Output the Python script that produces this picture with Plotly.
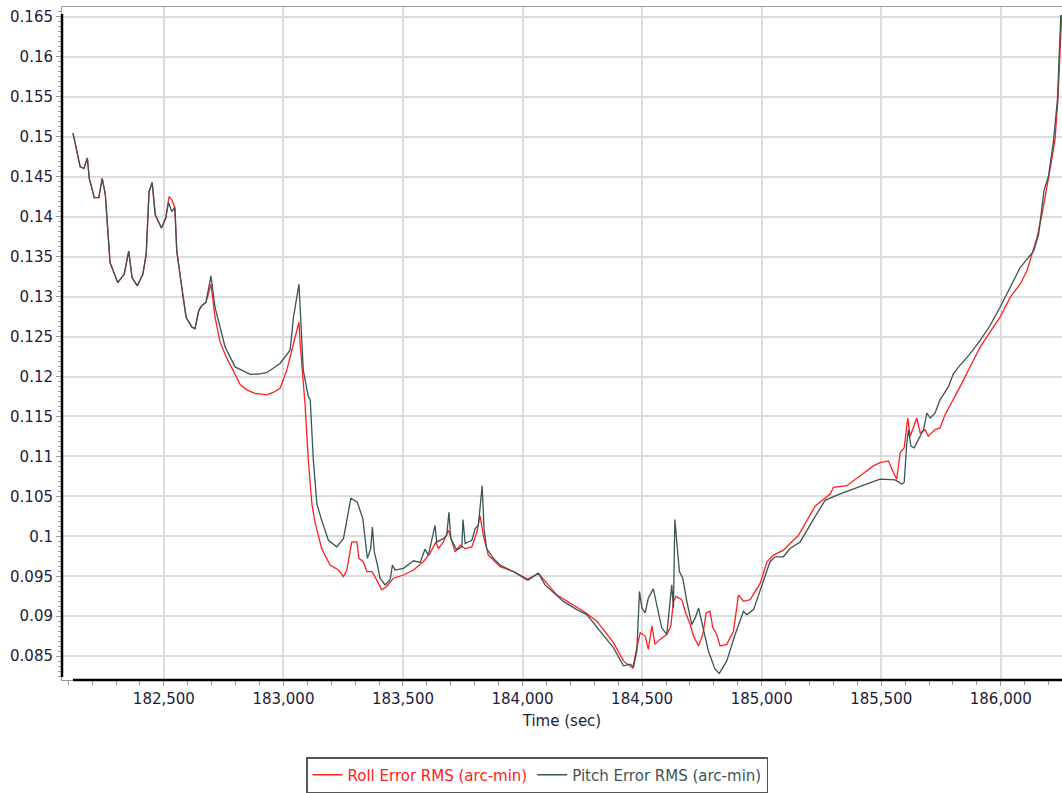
import plotly.graph_objects as go

# Roll error RMS (arc-min) vs. time (sec)
roll_t = [182120, 182133, 182150, 182166, 182180, 182188, 182209, 182228, 182242, 182255,
          182275, 182307, 182334, 182353, 182367, 182389, 182412, 182426, 182438, 182451,
          182464, 182490, 182508, 182522, 182533, 182546, 182554, 182575, 182593, 182617,
          182630, 182646, 182658, 182676, 182697, 182714, 182735, 182760, 182791, 182819,
          182847, 182881, 182930, 182957, 182986, 183014, 183042, 183065, 183070, 183090,
          183104, 183119, 183132, 183160, 183195, 183230, 183251, 183265, 183286, 183307,
          183316, 183334, 183349, 183370, 183390, 183411, 183432, 183460, 183502, 183544,
          183585, 183613, 183638, 183648, 183669, 183690, 183718, 183739, 183760, 183788,
          183809, 183822, 183836, 183857, 183906, 183962, 184018, 184066, 184143, 184255,
          184311, 184380, 184422, 184461, 184478, 184492, 184513, 184526, 184541, 184554,
          184575, 184603, 184620, 184631, 184642, 184666, 184680, 184701, 184715, 184736,
          184754, 184768, 184784, 184796, 184812, 184826, 184854, 184882, 184903, 184924,
          184952, 184973, 184994, 185022, 185049, 185091, 185126, 185154, 185224, 185287,
          185300, 185356, 185412, 185467, 185495, 185530, 185551, 185565, 185579, 185596,
          185611, 185621, 185649, 185663, 185684, 185697, 185725, 185746, 185767, 185802,
          185830, 185872, 185914, 185955, 185997, 186039, 186081, 186109, 186130, 186151,
          186172, 186193, 186209, 186227, 186239, 186248, 186255]
roll_v = [0.15045, 0.1485, 0.14623, 0.14603, 0.14735, 0.14478, 0.14239, 0.14239, 0.14478, 0.14283,
          0.13424, 0.13176, 0.13279, 0.13569, 0.13238, 0.13135, 0.13279, 0.13527, 0.14313, 0.14428,
          0.14023, 0.13858, 0.13982, 0.14251, 0.1421, 0.14115, 0.13569, 0.13114, 0.12742, 0.12618,
          0.12597, 0.12825, 0.12887, 0.12928, 0.13155, 0.12742, 0.1243, 0.1225, 0.1206, 0.119,
          0.11833, 0.1179, 0.1177, 0.118, 0.11852, 0.1208, 0.1241, 0.1268, 0.1241, 0.11666,
          0.10959, 0.10405, 0.10178, 0.09847, 0.09641, 0.09578, 0.09496, 0.09578, 0.0993, 0.0993,
          0.09724, 0.09682, 0.09558, 0.09558, 0.09455, 0.09331, 0.09372, 0.09476, 0.09516, 0.09578,
          0.09682, 0.09786, 0.0993, 0.09847, 0.0993, 0.10075, 0.09806, 0.09889, 0.09847, 0.09868,
          0.10054, 0.1026, 0.10013, 0.09765, 0.0962, 0.09558, 0.09455, 0.09538, 0.09268, 0.09062,
          0.08938, 0.08669, 0.08441, 0.0835, 0.08607, 0.08793, 0.08752, 0.08586, 0.08876, 0.08648,
          0.0871, 0.08772, 0.08876, 0.09186, 0.09248, 0.09207, 0.09062, 0.08896, 0.08752, 0.08627,
          0.08772, 0.09041, 0.09062, 0.08855, 0.08772, 0.08627, 0.08648, 0.08813, 0.09268, 0.09186,
          0.09207, 0.0931, 0.09414, 0.09682, 0.09765, 0.09827, 0.0993, 0.10013, 0.1038, 0.1053,
          0.10612, 0.10633, 0.10757, 0.10881, 0.10922, 0.10943, 0.10798, 0.10716, 0.11046, 0.11108,
          0.1148, 0.11253, 0.1148, 0.11294, 0.11335, 0.11253, 0.11335, 0.11356, 0.11522, 0.11708,
          0.11873, 0.12121, 0.1237, 0.12556, 0.12742, 0.1299, 0.13155, 0.1332, 0.13527, 0.13734,
          0.14023, 0.14354, 0.14643, 0.14974, 0.1547, 0.1609, 0.16525]

# Pitch error RMS (arc-min) vs. time (sec)
pitch_t = [182120, 182133, 182150, 182166, 182180, 182188, 182209, 182228, 182242, 182255,
           182275, 182307, 182334, 182353, 182367, 182389, 182412, 182426, 182438, 182451,
           182464, 182490, 182508, 182519, 182533, 182546, 182554, 182575, 182593, 182617,
           182630, 182646, 182658, 182676, 182697, 182714, 182756, 182798, 182861, 182894,
           182930, 182986, 183028, 183042, 183065, 183083, 183104, 183112, 183125, 183140,
           183160, 183188, 183223, 183251, 183265, 183282, 183309, 183332, 183351, 183365,
           183372, 183380, 183390, 183404, 183425, 183446, 183456, 183467, 183502, 183544,
           183572, 183592, 183606, 183634, 183641, 183669, 183683, 183692, 183700, 183725,
           183746, 183751, 183760, 183788, 183802, 183815, 183822, 183831, 183839, 183850,
           183878, 183906, 183948, 183990, 184024, 184066, 184094, 184171, 184227, 184269,
           184324, 184380, 184422, 184450, 184464, 184478, 184489, 184499, 184513, 184526,
           184547, 184561, 184582, 184603, 184624, 184631, 184637, 184645, 184656, 184670,
           184687, 184708, 184722, 184736, 184754, 184777, 184805, 184823, 184854, 184889,
           184924, 184938, 184966, 185001, 185035, 185056, 185091, 185119, 185161, 185224,
           185265, 185328, 185384, 185440, 185495, 185558, 185586, 185596, 185607, 185614,
           185624, 185638, 185656, 185677, 185691, 185705, 185725, 185746, 185781, 185802,
           185830, 185872, 185914, 185955, 185997, 186039, 186081, 186109, 186137, 186158,
           186181, 186199, 186220, 186237, 186251]
pitch_v = [0.15045, 0.1485, 0.14623, 0.14603, 0.14735, 0.14478, 0.14239, 0.14239, 0.14478, 0.14283,
           0.13424, 0.13176, 0.13279, 0.13569, 0.13238, 0.13135, 0.13279, 0.13527, 0.14313, 0.14428,
           0.14023, 0.13858, 0.13982, 0.1418, 0.14065, 0.14115, 0.13569, 0.13114, 0.12742, 0.12618,
           0.12597, 0.12825, 0.12887, 0.12928, 0.13259, 0.12866, 0.1237, 0.1212, 0.12026, 0.1203,
           0.12047, 0.12163, 0.1233, 0.12742, 0.13155, 0.1208, 0.11749, 0.1171, 0.10959, 0.10405,
           0.10199, 0.09951, 0.09868, 0.09971, 0.10199, 0.10476, 0.10426, 0.1022, 0.09724, 0.09847,
           0.10116, 0.09806, 0.09682, 0.09476, 0.09392, 0.09455, 0.09641, 0.09578, 0.09599, 0.09694,
           0.09674, 0.09839, 0.09765, 0.10137, 0.0993, 0.09971, 0.10013, 0.10302, 0.09971, 0.09827,
           0.09868, 0.10211, 0.0991, 0.09951, 0.10096, 0.10137, 0.10344, 0.10633, 0.10096, 0.09847,
           0.09724, 0.09641, 0.09578, 0.09516, 0.09455, 0.09538, 0.09392, 0.09186, 0.09083, 0.0902,
           0.08813, 0.08607, 0.08379, 0.084, 0.08367, 0.08565, 0.0931, 0.09104, 0.09041, 0.09227,
           0.09343, 0.09144, 0.08855, 0.08772, 0.09392, 0.09104, 0.10211, 0.0993, 0.09558, 0.09476,
           0.09186, 0.08896, 0.08979, 0.09104, 0.08876, 0.08565, 0.08338, 0.08285, 0.08441, 0.08772,
           0.09062, 0.0902, 0.09083, 0.09392, 0.09682, 0.09744, 0.09744, 0.09847, 0.0993, 0.1025,
           0.1045, 0.1053, 0.10592, 0.10654, 0.10716, 0.10707, 0.10654, 0.10674, 0.1117, 0.11335,
           0.11129, 0.11108, 0.11211, 0.11335, 0.11542, 0.1148, 0.11542, 0.11708, 0.11873, 0.12038,
           0.12142, 0.12287, 0.12452, 0.12638, 0.12866, 0.13114, 0.13362, 0.13465, 0.13569, 0.13775,
           0.14333, 0.14499, 0.14933, 0.1547, 0.16525]

x_range = [182074, 186256]
y_range = [0.08202, 0.16624]
x_ticks = [182500, 183000, 183500, 184000, 184500, 185000, 185500, 186000]
y_ticks = [0.085, 0.09, 0.095, 0.1, 0.105, 0.11, 0.115, 0.12, 0.125, 0.13,
           0.135, 0.14, 0.145, 0.15, 0.155, 0.16, 0.165]

ROLL_COLOR = "#ff2020"
PITCH_COLOR = "#3b5454"
FONT = "DejaVu Sans"
FONT_SIZE = 15
TEXT_COLOR = "#1c1c38"

fig = go.Figure()
fig.add_trace(go.Scatter(
    x=roll_t, y=roll_v, mode="lines",
    line=dict(color=ROLL_COLOR, width=1.3),
    name=f"<span style='color:{ROLL_COLOR}'>Roll Error RMS (arc-min)</span>",
))
fig.add_trace(go.Scatter(
    x=pitch_t, y=pitch_v, mode="lines",
    line=dict(color=PITCH_COLOR, width=1.3),
    name=f"<span style='color:{PITCH_COLOR}'>Pitch Error RMS (arc-min)</span>",
))

axis_common = dict(
    showgrid=True, gridcolor="#dcdcdc", gridwidth=2,
    zeroline=False, showline=True, mirror=True,
    linecolor="#9a9a9a", linewidth=1,
    ticks="outside", tickcolor="#9a9a9a", ticklen=5,
    tickfont=dict(family=FONT, size=FONT_SIZE, color=TEXT_COLOR),
    automargin=False,
)

fig.update_xaxes(
    range=x_range, tickvals=x_ticks,
    ticktext=[f"{v:,}" for v in x_ticks],
    title=dict(text="Time (sec)", font=dict(family=FONT, size=FONT_SIZE, color=TEXT_COLOR), standoff=8),
    minor=dict(dtick=100, tick0=182500, ticks="outside", ticklen=4, tickcolor="#9a9a9a", showgrid=False),
    **axis_common,
)
fig.update_yaxes(
    range=y_range, tickvals=y_ticks,
    ticktext=[f"{v:g}" for v in y_ticks],
    minor=dict(dtick=0.000625, tick0=0.085, ticks="outside", ticklen=3, tickcolor="#9a9a9a", showgrid=False),
    **axis_common,
)

# heavy black axis lines on the left and bottom edges
fig.add_shape(type="line", xref="paper", yref="paper", x0=0, x1=0, y0=0.0044, y1=0.9897,
              line=dict(color="black", width=2.5))
fig.add_shape(type="line", xref="paper", yref="paper", x0=0.011, x1=1, y0=0, y1=0,
              line=dict(color="black", width=2.5))

fig.update_layout(
    width=1062, height=793,
    margin=dict(l=62, r=0, t=7, b=107),
    paper_bgcolor="white", plot_bgcolor="white",
    font=dict(family=FONT, size=FONT_SIZE, color=TEXT_COLOR),
    showlegend=True,
    legend=dict(
        orientation="h", x=0.475, xanchor="center", y=-0.115, yanchor="top",
        bordercolor="#555555", borderwidth=1.5, bgcolor="white",
        font=dict(family=FONT, size=FONT_SIZE),
    ),
)

fig.write_html("out.html")
